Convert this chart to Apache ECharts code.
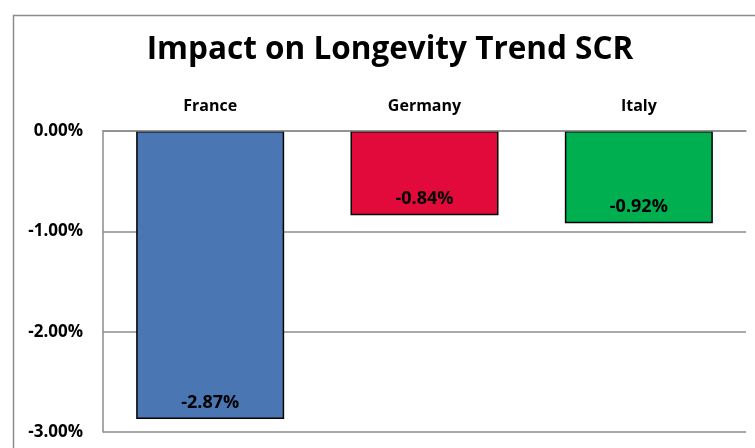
<!DOCTYPE html>
<html>
<head>
<meta charset="utf-8">
<script src="https://cdn.jsdelivr.net/npm/echarts@6/dist/echarts.min.js"></script>
<style>
  html, body { margin: 0; padding: 0; background: #fff; }
  #chart { width: 755px; height: 448px; }
</style>
</head>
<body>
<div id="chart"></div>
<script>
// data (percent)
var countries = ['France', 'Germany', 'Italy'];
var scrImpact = [-2.87, -0.84, -0.92];
var barColors = ['#4a76b4', '#e20a3a', '#00af50'];

var chart = echarts.init(document.getElementById('chart'), null, { renderer: 'canvas' });

var font = '"Open Sans", Lato, sans-serif';

var option = {
    backgroundColor: '#fff',
    animation: false,
    title: {
        text: 'Impact on Longevity Trend SCR',
        left: 385,
        top: 29,
        textAlign: 'center',
        textStyle: { fontFamily: font, fontSize: 31.5, fontWeight: 'bold', color: '#000' }
    },
    graphic: [{
        type: 'rect',
        left: 11,
        top: 13,
        shape: { width: 800, height: 500 },
        style: { fill: 'none', stroke: '#8c8c8c', lineWidth: 1.5 },
        silent: true
    }],
    grid: { left: 103, right: 9, top: 131, bottom: 16 },
    xAxis: {
        type: 'category',
        position: 'top',
        data: countries,
        axisLine: { show: true, lineStyle: { color: '#8c8c8c', width: 1.5 } },
        axisTick: { show: false },
        axisLabel: {
            margin: 17,
            fontFamily: font,
            fontSize: 16,
            fontWeight: 'bold',
            color: '#000'
        },
        z: 10
    },
    yAxis: {
        type: 'value',
        min: -3,
        max: 0,
        interval: 1,
        axisLine: { show: true, lineStyle: { color: '#8c8c8c', width: 1.5 } },
        axisTick: { show: false },
        splitLine: { lineStyle: { color: '#8c8c8c', width: 1.5 } },
        axisLabel: {
            margin: 20,
            fontFamily: font,
            fontSize: 17,
            fontWeight: 'bold',
            color: '#000',
            formatter: function (v) { return v.toFixed(2) + '%'; }
        }
    },
    series: [{
        type: 'bar',
        barWidth: 148,
        data: scrImpact.map(function (v, i) {
            return { value: v, itemStyle: { color: barColors[i] } };
        }),
        itemStyle: { borderColor: '#000', borderWidth: 1.5 },
        label: {
            show: true,
            position: 'insideBottom',
            distance: 7,
            fontFamily: font,
            fontSize: 18,
            fontWeight: 'bold',
            color: '#000',
            formatter: function (p) { return p.value.toFixed(2) + '%'; }
        }
    }]
};

chart.setOption(option);
</script>
</body>
</html>
